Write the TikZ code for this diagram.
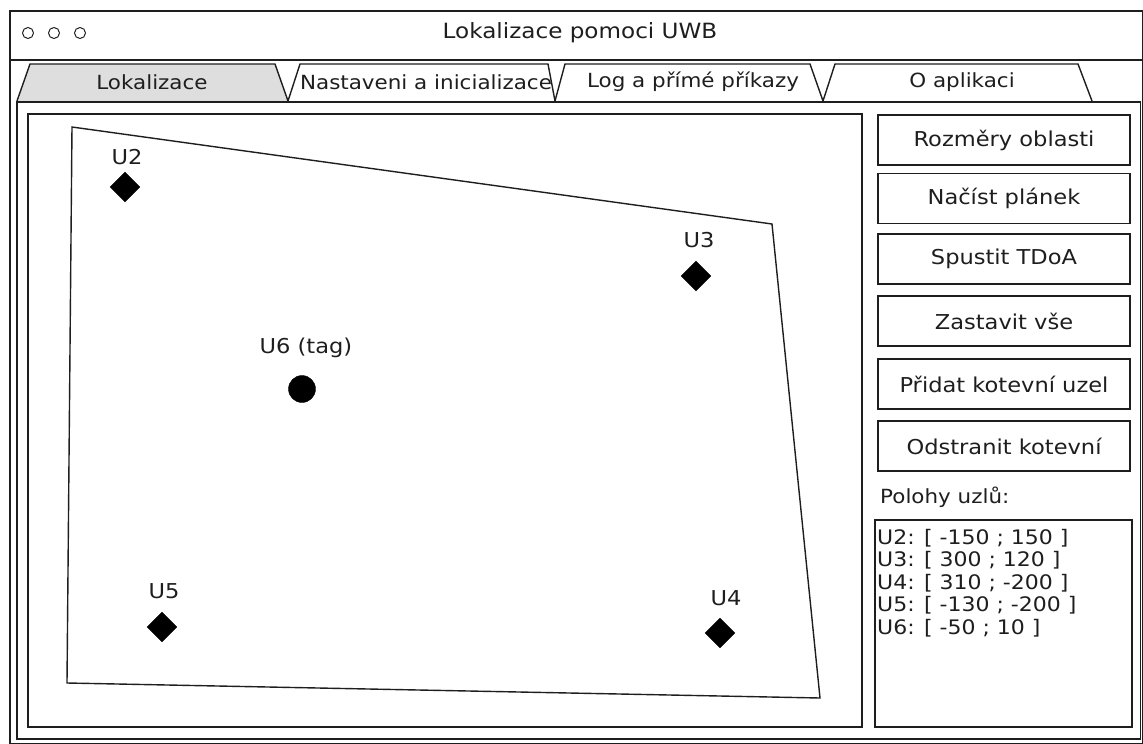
\documentclass[tikz,border=0pt]{standalone}
\usepackage{fontspec}
\setmainfont[FakeStretch=1.1]{DejaVu Sans}
\usetikzlibrary{shapes.geometric}
\definecolor{ink}{HTML}{1E1E1E}
\definecolor{tabgrey}{HTML}{DEDEDE}
\begin{document}
\begin{tikzpicture}[x=1pt,y=-1pt,
  frame/.style={draw=ink, line width=1.4pt},
  dot/.style={circle, draw=ink, line width=1pt, minimum size=11pt, inner sep=0pt},
  tablbl/.style={font=\fontsize{19.5}{22}\selectfont, text=ink},
  btn/.style={draw=ink, line width=1.4pt, rectangle, minimum width=252pt, minimum height=50pt, inner sep=0pt, font=\fontsize{20.5}{23}\selectfont, text=ink},
  anchornode/.style={diamond, fill=black, draw=black, minimum size=30pt, inner sep=0pt},
  tagnode/.style={circle, fill=black, draw=black, minimum size=27pt, inner sep=0pt},
  mlbl/.style={font=\fontsize{20.5}{22}\selectfont, text=ink},
  listtxt/.style={font=\fontsize{20}{22.5}\selectfont, text=ink, align=left, inner sep=0pt}
]
\useasboundingbox (0,0) rectangle (1143,744);
% window
\draw[frame] (10,11) rectangle (1142.5,743.5);
\draw[frame] (10,60) -- (1142.5,60);
\node[dot] (c1) at (28,33) {};
\node[dot] (c2) at (54,33) {};
\node[dot] (c3) at (80,33) {};
\node[font=\fontsize{21}{24}\selectfont, text=ink] (title) at (580,33) {Lokalizace pomoci UWB};
% tabs
\draw[frame, fill=tabgrey] (17,101) -- (30,64) -- (275,64) -- (288,101);
\draw[frame] (288,101) -- (300,64) -- (548,64) -- (555,101);
\draw[frame] (555,101) -- (565,64) -- (810,64) -- (823,101);
\draw[frame] (823,101) -- (835,64) -- (1078,64) -- (1092,101);
\node[tablbl] (t1) at (152,82) {Lokalizace};
\node[tablbl] (t2) at (426,82) {Nastaveni a inicializace};
\node[tablbl] (t3) at (693,82) {Log a přímé příkazy};
\node[tablbl] (t4) at (962,82) {O aplikaci};
% content panel
\draw[frame] (17,102) rectangle (1140.5,739);
% map area
\draw[frame] (28,114) rectangle (862,727);
\draw[frame] (72,127) -- (772,224) -- (820,698) -- (67,683) -- cycle;
% anchors
\node[anchornode] (u2) at (125,187) {};
\node[mlbl] (u2l) at (127,157) {U2};
\node[anchornode] (u3) at (696,276) {};
\node[mlbl] (u3l) at (699,240) {U3};
\node[anchornode] (u5) at (162,627) {};
\node[mlbl] (u5l) at (164,591) {U5};
\node[anchornode] (u4) at (720,633) {};
\node[mlbl] (u4l) at (726,598) {U4};
\node[tagnode] (u6) at (302,389) {};
\node[mlbl] (u6l) at (306,348) {U6 (tag)};
% buttons
\node[btn] (b1) at (1004,140) {Rozměry oblasti};
\node[btn] (b2) at (1004,198.5) {Načíst plánek};
\node[btn] (b3) at (1004,259) {Spustit TDoA};
\node[btn] (b4) at (1004,321) {Zastavit vše};
\node[btn] (b5) at (1004,384) {Přidat kotevní uzel};
\node[btn] (b6) at (1004,446) {Odstranit kotevní};
\node[font=\fontsize{19.5}{22}\selectfont, text=ink, anchor=west, inner sep=0pt] (pol) at (880,497) {Polohy uzlů:};
\draw[frame] (875,520) rectangle (1132,727);
\node[listtxt, anchor=north west] (list) at (877,529) {U2: [ -150 ; 150 ]\\U3: [ 300 ; 120 ]\\U4: [ 310 ; -200 ]\\U5: [ -130 ; -200 ]\\U6: [ -50 ; 10 ]};
\end{tikzpicture}
\end{document}
